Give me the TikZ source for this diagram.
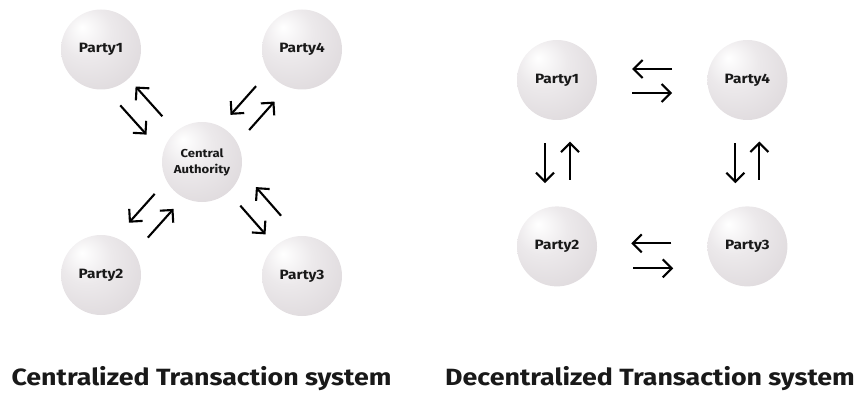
\documentclass[tikz,border=0pt]{standalone}
\usepackage{fontspec}
\setmainfont{Fira Sans}
\newfontfamily\widesans[FakeStretch=1.14]{Fira Sans}
\usetikzlibrary{positioning,calc,arrows.meta}

\definecolor{sphA}{HTML}{ECE9EB}
\definecolor{sphB}{HTML}{DCD7DA}
\definecolor{sphC}{HTML}{C6C0C4}
\pgfdeclareradialshading{pearl}{\pgfpoint{-12bp}{14bp}}{%
  color(0bp)=(white); color(16bp)=(sphA); color(40bp)=(sphB); color(66bp)=(sphC)}

\begin{document}
\begin{tikzpicture}[x=1pt,y=1pt,
	party/.style={
		circle,
		minimum size = 80pt,
		inner sep = 0pt,
		shading = pearl,
		align = center,
		text = black!90,
		font = \widesans\bfseries\fontsize{13.5}{16}\selectfont
	},
	flow/.style={
		line width = 2.1pt,
		-{Straight Barb[length=9pt,width=18pt]}
	},
	caption/.style={
		anchor = base,
		font = \widesans\bfseries\fontsize{23.5}{28}\selectfont,
		text = black!90
	},
	]

	\useasboundingbox (0,0) rectangle (861,394);

	% centralized
	\node[party, font=\widesans\bfseries\fontsize{11.5}{16}\selectfont] (ca) at (202,232) {Central\\Authority};
	\node[party] (p1) at (101,344.5) {Party1};
	\node[party] (p4) at (302,344.5) {Party4};
	\node[party] (p2) at (101,119) {Party2};
	\node[party] (p3) at (302,118) {Party3};

	\draw[flow] ($(p1)!.60!(ca)!1pt!90:(ca)$) -- ($(p1)!.335!(ca)!1pt!90:(ca)$);
	\draw[flow] ($(p1)!.36!(ca)!-23pt!90:(ca)$) -- ($(p1)!.62!(ca)!-23pt!90:(ca)$);

	\draw[flow] ($(p4)!.385!(ca)!-10pt!90:(ca)$) -- ($(p4)!.64!(ca)!-10pt!90:(ca)$);
	\draw[flow] ($(p4)!.633!(ca)!14pt!90:(ca)$) -- ($(p4)!.38!(ca)!14pt!90:(ca)$);

	\draw[flow] ($(p2)!.635!(ca)!14pt!90:(ca)$) -- ($(p2)!.38!(ca)!14pt!90:(ca)$);
	\draw[flow] ($(p2)!.39!(ca)!-10pt!90:(ca)$) -- ($(p2)!.644!(ca)!-10pt!90:(ca)$);

	\draw[flow] ($(p3)!.617!(ca)!0pt!90:(ca)$) -- ($(p3)!.365!(ca)!0pt!90:(ca)$);
	\draw[flow] ($(p3)!.39!(ca)!-24pt!90:(ca)$) -- ($(p3)!.641!(ca)!-24pt!90:(ca)$);

	% decentralized
	\node[party] (q1) at (557,314) {Party1};
	\node[party, right=110pt of q1] (q4) {Party4};
	\node[party, below=86pt of q1] (q2) {Party2};
	\node[party, below=86pt of q4] (q3) {Party3};

	\draw[flow] ($(q1)!.605!(q4)!11pt!90:(q4)$) -- ($(q1)!.395!(q4)!11pt!90:(q4)$);
	\draw[flow] ($(q1)!.395!(q4)!-13pt!90:(q4)$) -- ($(q1)!.605!(q4)!-13pt!90:(q4)$);

	\draw[flow] ($(q2)!.6!(q3)!3pt!90:(q3)$) -- ($(q2)!.39!(q3)!3pt!90:(q3)$);
	\draw[flow] ($(q2)!.4!(q3)!-22pt!90:(q3)$) -- ($(q2)!.61!(q3)!-22pt!90:(q3)$);

	\draw[flow] ($(q1)!.38!(q2)!-12pt!90:(q2)$) -- ($(q1)!.62!(q2)!-12pt!90:(q2)$);
	\draw[flow] ($(q1)!.6!(q2)!13pt!90:(q2)$) -- ($(q1)!.37!(q2)!13pt!90:(q2)$);

	\draw[flow] ($(q4)!.38!(q3)!-12pt!90:(q3)$) -- ($(q4)!.62!(q3)!-12pt!90:(q3)$);
	\draw[flow] ($(q4)!.6!(q3)!12pt!90:(q3)$) -- ($(q4)!.37!(q3)!12pt!90:(q3)$);

	\node[caption] (left title) at (201.5,9) {Centralized Transaction system};
	\node[caption] (right title) at (650,9) {Decentralized Transaction system};

\end{tikzpicture}
\end{document}
